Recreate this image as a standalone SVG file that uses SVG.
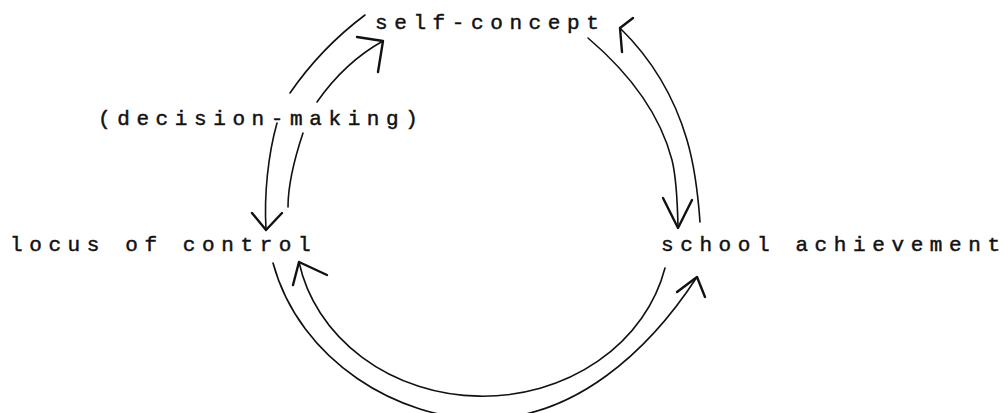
<svg xmlns="http://www.w3.org/2000/svg" width="1007" height="413" viewBox="0 0 1007 413">
<style>
.lbl{font-family:"Liberation Mono","Courier New",monospace;font-size:21px;letter-spacing:6.6px;fill:#111;stroke:#111;stroke-width:0.45}
.ln{fill:none;stroke:#111;stroke-width:1.6;stroke-linecap:round;stroke-linejoin:round}
.ah{fill:none;stroke:#111;stroke-width:2.4;stroke-linecap:round;stroke-linejoin:round}
</style>
<rect width="1007" height="413" fill="#fff"/>
<g id="connectors">
<!-- self-concept -> locus of control (outer, left) -->
<path class="ln" d="M365,15 Q321,48 290,93"/>
<path class="ln" d="M277,123 C268,155 264,195 266,229"/>
<polyline class="ah" points="252,213 266,230 282,213"/>
<!-- locus of control -> self-concept (inner, left) -->
<path class="ln" d="M288,207 C288,185 294,160 303,133"/>
<path class="ln" d="M317,102 Q345,62 383,41"/>
<polyline class="ah" points="357,37 383,41 378,72"/>
<!-- self-concept -> school achievement (inner, right) -->
<path class="ln" d="M588,38 Q655,95 672,160 Q677,180 678,227"/>
<polyline class="ah" points="663,198 678,228 692,200"/>
<!-- school achievement -> self-concept (outer, right) -->
<path class="ln" d="M620,28 Q668,75 687,140 Q696.5,172.5 700,222"/>
<polyline class="ah" points="633,18 620,28 622,52"/>
<!-- school achievement -> locus of control (inner, bottom) -->
<path class="ln" d="M665,268 A187,165 0 0 1 299,262"/>
<polyline class="ah" points="293,285 299,262 327,275"/>
<!-- locus of control -> school achievement (outer, bottom) -->
<path class="ln" d="M273,263 C300,362 400,420 485,419 C575,418 648,352 697,277"/>
<polyline class="ah" points="677,292 697,277 705,297"/>
</g>
<g id="node-self-concept"><text class="lbl" x="375" y="29">self-concept</text></g>
<g id="node-decision-making"><text class="lbl" x="98" y="125">(decision-making)</text></g>
<g id="node-locus-of-control"><text class="lbl" x="10" y="251">locus of control</text></g>
<g id="node-school-achievement"><text class="lbl" x="661" y="251">school achievement</text></g>
</svg>
